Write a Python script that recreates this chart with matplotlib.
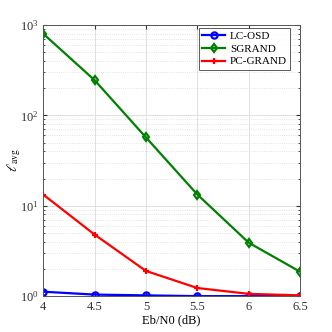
import numpy as np
import matplotlib.pyplot as plt
from matplotlib.ticker import LogLocator, NullFormatter

plt.rcParams['font.family'] = ['Liberation Serif', 'DejaVu Serif']
plt.rcParams['mathtext.fontset'] = 'stix'

# data
ebn0 = [4, 4.5, 5, 5.5, 6, 6.5]
lc_osd = [1.12, 1.04, 1.02, 1.0, 1.0, 1.0]
sgrand = [800, 245, 57, 13.3, 3.9, 1.86]
pc_grand = [13.3, 4.8, 1.9, 1.23, 1.06, 1.02]
labels = ['LC-OSD', 'SGRAND', 'PC-GRAND']

fig = plt.figure(figsize=(3.32, 3.32), dpi=100)
ax = fig.add_axes([0.13, 0.108, 0.774, 0.817])

ax.semilogy(ebn0, lc_osd, '-o', color='blue', lw=1.6, ms=4.5, mfc='none', mew=1.6, label=labels[0])
ax.semilogy(ebn0, sgrand, '-d', color='green', lw=1.6, ms=4.5, mfc='none', mew=1.6, label=labels[1])
ax.semilogy(ebn0, pc_grand, '-+', color='red', lw=1.6, ms=4.5, mew=1.6, label=labels[2])

ax.set_xlim(4, 6.5)
ax.set_ylim(1, 1000)
ax.set_xticks(ebn0)
ax.set_xticklabels(['4', '4.5', '5', '5.5', '6', '6.5'])
ax.yaxis.set_minor_locator(LogLocator(base=10, subs=np.arange(2, 10)))
ax.yaxis.set_minor_formatter(NullFormatter())

ax.grid(True, which='major', color='#dcdcdc', lw=0.6)
ax.grid(True, which='minor', axis='y', color='#dcdcdc', lw=0.6, ls=':')
ax.set_axisbelow(True)

for s in ax.spines.values():
    s.set_color('#555555')
    s.set_linewidth(0.7)
ax.tick_params(which='both', direction='in', top=True, right=True, colors='#333333', labelsize=9)
ax.tick_params(which='major', length=3)
ax.tick_params(which='minor', length=1.5)

ax.set_xlabel('Eb/N0 (dB)', fontsize=9, labelpad=1)
ax.set_ylabel(r'$\ell_{\mathrm{avg}}$', fontsize=10)
ax.yaxis.set_label_coords(-0.08, 0.5)

leg = ax.legend(loc='upper right', fontsize=8, frameon=True, fancybox=False,
                edgecolor='#333333', handlelength=2.1, borderpad=0.3,
                labelspacing=0.25, handletextpad=0.4, borderaxespad=0.3,
                bbox_to_anchor=(0.975, 1.0))
leg.get_frame().set_linewidth(0.7)

fig.savefig('out.png', dpi=100)
